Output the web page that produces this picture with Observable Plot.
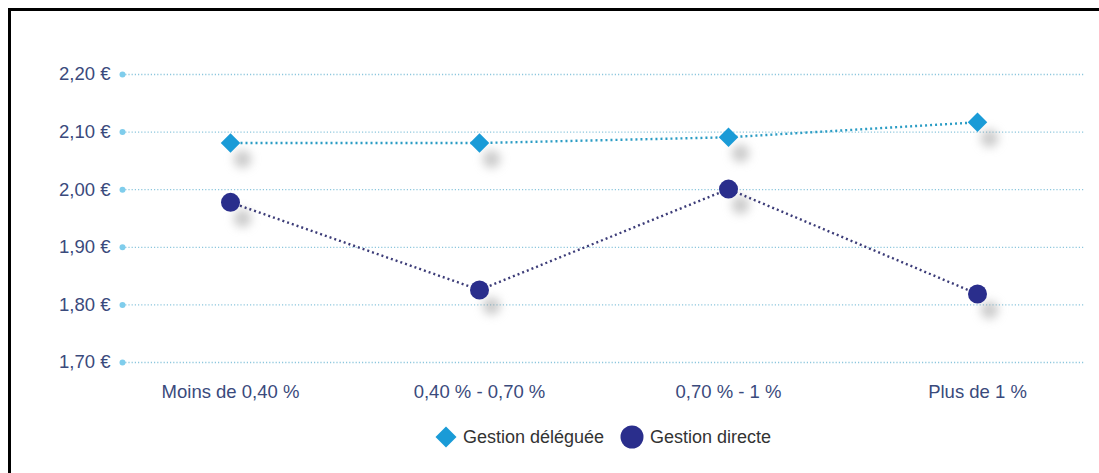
<!DOCTYPE html>
<html>
<head>
<meta charset="utf-8">
<script src="https://cdn.jsdelivr.net/npm/d3@7"></script>
<script src="https://cdn.jsdelivr.net/npm/@observablehq/plot@0.6"></script>
<style>
  html, body { margin: 0; padding: 0; background: #fff; }
  #wrap { position: relative; width: 1099px; height: 473px; overflow: hidden; font-family: "Liberation Sans", Arial, sans-serif; }
  #frame { position: absolute; left: 8px; top: 8px; width: 1100px; height: 480px; border-left: 3px solid #000; border-top: 3px solid #000; box-sizing: border-box; }
  #chart { position: absolute; left: 0; top: 0; }
  #legend { position: absolute; left: 122px; width: 962px; top: 425px; display: flex; justify-content: center; align-items: center; gap: 16px; font-size: 18px; color: #333; }
  .item { display: flex; align-items: center; gap: 6px; }
</style>
</head>
<body>
<div id="wrap">
  <div id="frame"></div>
  <div id="chart"></div>
  <div id="legend"></div>
</div>
<script>
const categories = ["Moins de 0,40 %", "0,40 % - 0,70 %", "0,70 % - 1 %", "Plus de 1 %"];
const seriesNames = ["Gestion déléguée", "Gestion directe"];
const delegueeValues = [2.081, 2.081, 2.091, 2.117];
const directeValues = [1.978, 1.826, 2.001, 1.819];
const yTicks = [1.70, 1.80, 1.90, 2.00, 2.10, 2.20];
const colors = {"Gestion déléguée": "#1a9bd7", "Gestion directe": "#2a2e8c"};
const lineColors = {"Gestion déléguée": "#2a9cc4", "Gestion directe": "#3c3c78"};

const data = [
  ...categories.map((c, i) => ({cat: c, value: delegueeValues[i], series: seriesNames[0]})),
  ...categories.map((c, i) => ({cat: c, value: directeValues[i], series: seriesNames[1]}))
];
const del = data.filter(d => d.series === seriesNames[0]);
const dir = data.filter(d => d.series === seriesNames[1]);
const fmt = v => v.toFixed(2).replace(".", ",") + " €";

const plot = Plot.plot({
  width: 1099,
  height: 415,
  marginLeft: 122,
  marginRight: 15,
  marginTop: 74,
  marginBottom: 53,
  style: {fontFamily: '"Liberation Sans", Arial, sans-serif', fontSize: "18.5px", color: "#3a4a7c", background: "transparent"},
  x: {domain: categories, type: "point", padding: 0.43, label: null},
  y: {domain: [1.70, 2.20], label: null},
  marks: [
    Plot.ruleY(yTicks, {stroke: "#8cc6dd", strokeWidth: 1.3, strokeDasharray: "1.2,2"}),
    Plot.dot(yTicks, {y: d => d, frameAnchor: "left", r: 3, fill: "#7fcdec", stroke: "none"}),
    Plot.axisY({ticks: yTicks, tickFormat: fmt, tickSize: 0, tickPadding: 12, fill: "#3a4a7c", fontSize: 18.5}),
    Plot.axisX({tickSize: 0, tickPadding: 22, fill: "#3a4a7c", fontSize: 18.5}),
    // shadows
    Plot.dot(data, {x: "cat", y: "value", dx: 12, dy: 16, r: 9, fill: "#9a9a9a", fillOpacity: 0.5, imageFilter: "blur(5px)"}),
    Plot.line(del, {x: "cat", y: "value", stroke: lineColors[seriesNames[0]], strokeWidth: 2.4, strokeDasharray: "2,3", strokeLinecap: "butt"}),
    Plot.line(dir, {x: "cat", y: "value", stroke: lineColors[seriesNames[1]], strokeWidth: 2.4, strokeDasharray: "2,3", strokeLinecap: "butt"}),
    Plot.dot(del, {x: "cat", y: "value", symbol: "diamond2", r: 8.8, fill: colors[seriesNames[0]], stroke: "none"}),
    Plot.dot(dir, {x: "cat", y: "value", symbol: "circle", r: 9.5, fill: colors[seriesNames[1]], stroke: "none"})
  ]
});
document.getElementById("chart").appendChild(plot);

// Legend
const legend = document.getElementById("legend");
const shapes = {
  "Gestion déléguée": `<svg width="22" height="22" viewBox="-11 -11 22 22"><path d="M0,-10.5L10.5,0L0,10.5L-10.5,0Z" fill="${colors[seriesNames[0]]}"/></svg>`,
  "Gestion directe": `<svg width="24" height="24" viewBox="-12 -12 24 24"><circle r="11.5" fill="${colors[seriesNames[1]]}"/></svg>`
};
for (const s of seriesNames) {
  const el = document.createElement("div");
  el.className = "item";
  el.innerHTML = shapes[s] + `<span>${s}</span>`;
  legend.appendChild(el);
}
</script>
</body>
</html>
